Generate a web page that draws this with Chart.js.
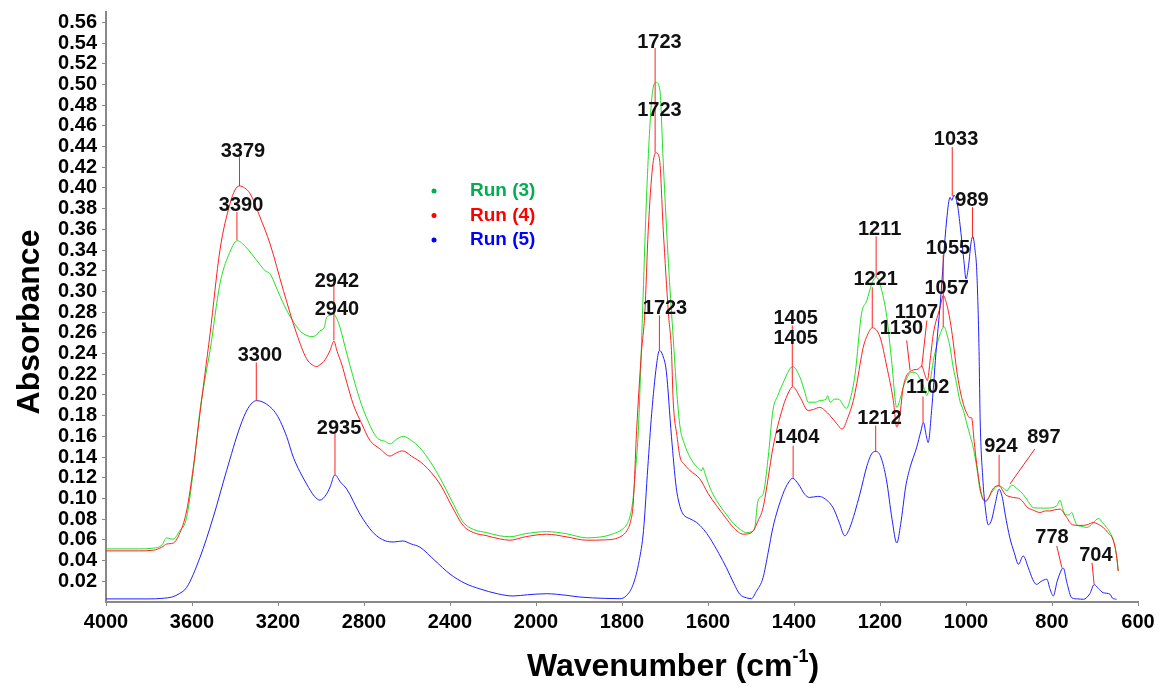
<!DOCTYPE html>
<html>
<head>
<meta charset="utf-8">
<script src="https://cdn.jsdelivr.net/npm/chart.js@4.4.1/dist/chart.umd.min.js"></script>
<style>
  body { margin: 0; background: #fff; }
  #wrap { width: 1168px; height: 690px; }
</style>
</head>
<body>
<div id="wrap"><canvas id="c"></canvas></div>
<script>
// ---- data ----
var run3Wn = [4000,3850,3780,3740,3718,3700,3687,3660,3625,3594,3563,3540,3516,3470,3430,3389,3350,3299,3260,3237,3200,3160,3098,3060,3043,3020,3005,2985,2974,2955,2943,2925,2912,2880,2850,2820,2788,2741,2700,2679,2650,2617,2580,2540,2490,2447,2390,2338,2290,2229,2170,2121,2050,1975,1930,1882,1840,1820,1800,1789,1780,1774,1768,1762,1751,1743,1731,1721,1712,1704,1692,1682,1672,1665,1655,1642,1625,1615,1612,1607,1595,1580,1560,1541,1525,1510,1498,1491,1485,1480,1472,1460,1449,1437,1426,1403,1386,1375,1367,1350,1340,1325,1322,1316,1306,1297,1278,1270,1258,1243,1231,1219,1209,1196,1184,1173,1161,1152,1146,1126,1115,1107,1100,1091,1083,1076,1060,1051,1044,1037,1030,1022,1014,1006,998,990,983,975,967,956,948,940,923,913,905,894,880,867,855,843,812,789,781,775,770,760,754,748,743,730,719,705,692,683,673,665,657,650,646];
var run3Abs = [0.0513,0.0513,0.052,0.055,0.062,0.061,0.0607,0.068,0.0816,0.127,0.185,0.215,0.243,0.3075,0.335,0.349,0.343,0.330,0.320,0.317,0.300,0.282,0.262,0.257,0.2565,0.258,0.262,0.265,0.275,0.277,0.2785,0.273,0.2655,0.240,0.217,0.196,0.178,0.159,0.155,0.1527,0.157,0.160,0.156,0.149,0.135,0.120,0.097,0.077,0.070,0.067,0.064,0.063,0.066,0.068,0.066,0.062,0.0635,0.066,0.070,0.075,0.085,0.101,0.13,0.1655,0.2945,0.391,0.485,0.502,0.495,0.424,0.327,0.262,0.200,0.169,0.153,0.140,0.130,0.127,0.130,0.124,0.110,0.098,0.086,0.076,0.070,0.067,0.068,0.072,0.095,0.101,0.104,0.140,0.185,0.200,0.211,0.2275,0.217,0.203,0.193,0.193,0.1946,0.196,0.1994,0.193,0.196,0.196,0.187,0.195,0.220,0.2785,0.291,0.3075,0.314,0.301,0.275,0.233,0.188,0.198,0.2075,0.222,0.221,0.2156,0.210,0.1994,0.214,0.233,0.259,0.266,0.258,0.246,0.227,0.211,0.194,0.185,0.172,0.160,0.149,0.130,0.1075,0.098,0.100,0.106,0.1123,0.110,0.1075,0.113,0.109,0.104,0.097,0.091,0.0907,0.093,0.0984,0.090,0.085,0.084,0.0865,0.080,0.075,0.073,0.072,0.076,0.0807,0.077,0.072,0.067,0.059,0.045,0.030];

var run4Wn = [4000,3850,3780,3740,3718,3687,3660,3625,3594,3563,3540,3516,3470,3423,3400,3380,3355,3330,3284,3237,3175,3113,3067,3040,3020,3000,2981,2958,2940,2925,2904,2880,2850,2810,2772,2726,2679,2650,2620,2580,2524,2447,2390,2338,2290,2229,2170,2121,2050,1975,1930,1882,1840,1820,1800,1789,1780,1774,1766,1755,1747,1739,1729,1721,1713,1704,1692,1685,1681,1672,1665,1655,1642,1619,1600,1580,1560,1541,1518,1505,1495,1484,1472,1460,1449,1426,1412,1403,1386,1367,1355,1340,1328,1316,1300,1288,1275,1262,1254,1239,1228,1218,1200,1184,1169,1161,1154,1146,1126,1111,1103,1096,1090,1083,1076,1060,1053,1045,1037,1030,1022,1014,1006,998,991,987,981,975,964,954,947,940,930,923,915,909,900,890,874,866,859,845,828,815,805,795,781,768,752,735,719,704,692,681,670,657,650,646];
var run4Abs = [0.0494,0.0494,0.050,0.053,0.056,0.057,0.065,0.088,0.130,0.182,0.220,0.259,0.340,0.385,0.398,0.402,0.400,0.3946,0.372,0.346,0.301,0.259,0.235,0.229,0.2275,0.230,0.234,0.243,0.252,0.242,0.230,0.212,0.191,0.172,0.156,0.148,0.141,0.144,0.146,0.141,0.133,0.114,0.092,0.0736,0.067,0.064,0.061,0.0597,0.063,0.0655,0.063,0.0597,0.060,0.0607,0.064,0.0687,0.078,0.0946,0.1655,0.24,0.2785,0.359,0.420,0.434,0.4285,0.359,0.2785,0.243,0.1946,0.160,0.140,0.133,0.127,0.119,0.105,0.093,0.082,0.072,0.0655,0.066,0.0687,0.078,0.091,0.120,0.149,0.188,0.203,0.208,0.198,0.185,0.186,0.188,0.185,0.180,0.172,0.167,0.178,0.1946,0.211,0.246,0.259,0.265,0.256,0.227,0.1946,0.169,0.180,0.2075,0.2236,0.225,0.228,0.220,0.214,0.235,0.259,0.285,0.296,0.288,0.272,0.252,0.225,0.205,0.191,0.182,0.178,0.178,0.155,0.133,0.104,0.097,0.101,0.1075,0.112,0.1123,0.108,0.104,0.102,0.101,0.0995,0.096,0.092,0.089,0.0865,0.088,0.088,0.089,0.0897,0.083,0.0745,0.074,0.0745,0.0768,0.075,0.072,0.067,0.059,0.045,0.030];

var run5Wn = [4000,3800,3740,3690,3660,3625,3563,3501,3439,3377,3340,3300,3260,3206,3160,3129,3067,3030,3005,2975,2958,2935,2910,2880,2819,2757,2700,2660,2620,2580,2540,2470,2400,2330,2260,2180,2107,2040,1975,1930,1898,1840,1805,1790,1774,1760,1750,1740,1731,1720,1713,1705,1697,1685,1674,1665,1658,1640,1627,1610,1596,1575,1557,1540,1526,1510,1499,1488,1472,1460,1449,1426,1412,1403,1390,1375,1364,1345,1333,1309,1295,1282,1270,1247,1230,1218,1209,1198,1185,1172,1161,1152,1140,1130,1115,1105,1099,1093,1088,1080,1070,1060,1045,1037,1033,1028,1020,1014,1005,1000,994,988,984,979,975,970,967,961,956,948,940,932,923,915,909,898,888,878,867,855,845,836,825,812,805,797,788,778,774,765,754,740,727,712,702,692,681,665,660,650];
var run5Abs = [0.003,0.003,0.0035,0.005,0.008,0.014,0.043,0.082,0.127,0.169,0.187,0.1945,0.192,0.181,0.160,0.140,0.114,0.102,0.0984,0.104,0.111,0.1228,0.116,0.109,0.085,0.067,0.059,0.058,0.059,0.056,0.053,0.040,0.027,0.018,0.0126,0.008,0.0058,0.007,0.008,0.0065,0.0048,0.0035,0.0032,0.006,0.017,0.04,0.069,0.13,0.182,0.228,0.243,0.238,0.223,0.16,0.111,0.092,0.085,0.080,0.077,0.070,0.062,0.047,0.033,0.018,0.0075,0.004,0.0032,0.010,0.0235,0.048,0.072,0.104,0.116,0.1195,0.114,0.104,0.101,0.102,0.101,0.091,0.077,0.064,0.072,0.104,0.132,0.144,0.1455,0.140,0.118,0.080,0.057,0.075,0.112,0.130,0.149,0.165,0.1736,0.162,0.154,0.185,0.240,0.288,0.369,0.391,0.388,0.393,0.384,0.365,0.330,0.312,0.325,0.348,0.353,0.340,0.320,0.250,0.175,0.120,0.0945,0.0745,0.080,0.095,0.109,0.100,0.085,0.062,0.048,0.0365,0.0445,0.033,0.022,0.017,0.020,0.022,0.013,0.0058,0.020,0.031,0.033,0.018,0.004,0.003,0.0026,0.008,0.0168,0.013,0.009,0.0075,0.004,0.0026];

var seriesNames = ['Run (3)', 'Run (4)', 'Run (5)'];
var lineColors = ['#22e022', '#ff2020', '#2020ff'];
var legendColors = ['#00b050', '#ff0000', '#0000ff'];

var xTickLabels = ['4000','3600','3200','2800','2400','2000','1800','1600','1400','1200','1000','800','600'];
var yTickValues = [0.02,0.04,0.06,0.08,0.10,0.12,0.14,0.16,0.18,0.20,0.22,0.24,0.26,0.28,0.30,0.32,0.34,0.36,0.38,0.40,0.42,0.44,0.46,0.48,0.50,0.52,0.54,0.56];

// peak labels
var peakText   = ['3379','3390','2942','2940','3300','2935','1723','1723','1723','1405','1405','1404','1211','1221','1212','1130','1107','1102','1055','1057','1033','989','924','897','778','704'];
var peakTextWn = [3363,3372,2926,2926,3284,2916,1713,1713,1700,1396,1396,1393,1201,1210,1201,1150,1115,1089,1042,1045,1023,986,919,819,800,698];
var peakTextAbs= [0.4356,0.3834,0.3098,0.2827,0.2381,0.1675,0.5402,0.4753,0.2836,0.274,0.2546,0.1588,0.3601,0.3117,0.1772,0.2643,0.2801,0.2075,0.3417,0.303,0.447,0.3882,0.15,0.159,0.0622,0.0445];

// leader lines from label to peak
var leadFromWn  = [3379,3391,2940,3301,2935,1723,1713,1404,1402,1209,1218,1210,1138,1091,1100,1053,1032,985,923,840,789,707];
var leadFromAbs = [0.4298,0.3766,0.3088,0.2314,0.1626,0.5353,0.2769,0.2672,0.151,0.3533,0.304,0.1704,0.2527,0.272,0.1985,0.335,0.4395,0.3814,0.1423,0.1478,0.0542,0.038];
var leadToWn    = [3379,3391,2940,3301,2935,1723,1713,1404,1402,1209,1218,1210,1130,1103,1100,1053,1032,985,923,898,777,702];
var leadToAbs   = [0.4017,0.3495,0.2527,0.1946,0.1229,0.434,0.243,0.2081,0.12,0.3137,0.2652,0.1452,0.2236,0.2268,0.1736,0.2655,0.392,0.3524,0.1123,0.1139,0.0332,0.0171];

// FTIR style axis: 400 cm-1 per division above 2000, 200 below
function toAxis(wn) {
  return wn >= 2000 ? (4000 - wn) / 400 : 5 + (2000 - wn) / 200;
}

function pts(wn, ab) {
  return wn.map(function (w, i) { return { x: toAxis(w), y: ab[i] }; });
}

var FONT = "'Liberation Sans', Arial, sans-serif";

var extrasPlugin = {
  id: 'extras',
  afterDatasetsDraw: function (chart) {
    var ctx = chart.ctx, xs = chart.scales.x, ys = chart.scales.y;
    ctx.save();
    // leader lines
    ctx.strokeStyle = '#ff2020';
    ctx.lineWidth = 1;
    for (var i = 0; i < leadFromWn.length; i++) {
      ctx.beginPath();
      ctx.moveTo(xs.getPixelForValue(toAxis(leadFromWn[i])), ys.getPixelForValue(leadFromAbs[i]));
      ctx.lineTo(xs.getPixelForValue(toAxis(leadToWn[i])), ys.getPixelForValue(leadToAbs[i]));
      ctx.stroke();
    }
    // peak labels
    ctx.fillStyle = '#111';
    ctx.font = 'bold 20px ' + FONT;
    ctx.textAlign = 'center';
    ctx.textBaseline = 'middle';
    for (var j = 0; j < peakText.length; j++) {
      ctx.fillText(peakText[j], xs.getPixelForValue(toAxis(peakTextWn[j])), ys.getPixelForValue(peakTextAbs[j]));
    }
    // legend
    ctx.textAlign = 'left';
    ctx.font = 'bold 19px ' + FONT;
    for (var k = 0; k < seriesNames.length; k++) {
      var ly = 191 + k * 24.5;
      ctx.fillStyle = legendColors[k];
      ctx.beginPath();
      ctx.arc(434, ly, 2.5, 0, Math.PI * 2);
      ctx.fill();
      ctx.fillText(seriesNames[k], 470, ly);
    }
    // axis titles
    ctx.fillStyle = '#000';
    ctx.font = 'bold 32px ' + FONT;
    ctx.save();
    ctx.translate(30, 322);
    ctx.rotate(-Math.PI / 2);
    ctx.textAlign = 'center';
    ctx.fillText('Absorbance', 0, 0);
    ctx.restore();
    var t1 = 'Wavenumber (cm', t2 = '-1', t3 = ')';
    ctx.font = 'bold 32px ' + FONT;
    var w1 = ctx.measureText(t1).width, w3 = ctx.measureText(t3).width;
    ctx.font = 'bold 18px ' + FONT;
    var w2 = ctx.measureText(t2).width;
    var x0 = 673 - (w1 + w2 + w3) / 2, ty = 667;
    ctx.font = 'bold 32px ' + FONT;
    ctx.fillText(t1, x0, ty);
    ctx.font = 'bold 18px ' + FONT;
    ctx.fillText(t2, x0 + w1, ty - 10);
    ctx.font = 'bold 32px ' + FONT;
    ctx.fillText(t3, x0 + w1 + w2, ty);
    ctx.restore();
  }
};

var datasets = [run3Wn, run4Wn, run5Wn].map(function (wn, i) {
  var ab = [run3Abs, run4Abs, run5Abs][i];
  return {
    label: seriesNames[i],
    data: pts(wn, ab),
    borderColor: lineColors[i],
    borderWidth: 1,
    pointRadius: 0,
    fill: false,
    cubicInterpolationMode: 'monotone',
    order: 3 - i
  };
});

new Chart(document.getElementById('c'), {
  type: 'line',
  data: { datasets: datasets },
  options: {
    responsive: true,
    maintainAspectRatio: false,
    animation: false,
    layout: { padding: { left: 0, top: 12, right: 30, bottom: 0 } },
    plugins: { legend: { display: false }, tooltip: { enabled: false } },
    scales: {
      x: {
        type: 'linear',
        min: 0,
        max: 12,
        afterBuildTicks: function (axis) {
          axis.ticks = xTickLabels.map(function (l, i) { return { value: i }; });
        },
        afterFit: function (axis) { axis.height = 88; },
        ticks: {
          autoSkip: false,
          maxRotation: 0,
          padding: 4,
          color: '#000',
          font: { family: FONT, size: 20, weight: 'bold' },
          callback: function (v, i) { return xTickLabels[i]; }
        },
        grid: { drawOnChartArea: false, drawTicks: true, tickLength: 4, color: '#888' },
        border: { color: '#888', width: 2 }
      },
      y: {
        type: 'linear',
        min: 0,
        max: 0.57,
        afterBuildTicks: function (axis) {
          axis.ticks = yTickValues.map(function (v) { return { value: v }; });
        },
        afterFit: function (axis) {
          axis.width = 106;
          axis.paddingTop = 0;
          axis.paddingBottom = 0;
        },
        ticks: {
          autoSkip: false,
          padding: 5,
          color: '#000',
          font: { family: FONT, size: 20, weight: 'bold' },
          callback: function (v) { return Number(v).toFixed(2); }
        },
        grid: { drawOnChartArea: false, drawTicks: true, tickLength: 4, color: '#888' },
        border: { color: '#888', width: 2 }
      }
    }
  },
  plugins: [extrasPlugin]
});
</script>
</body>
</html>
